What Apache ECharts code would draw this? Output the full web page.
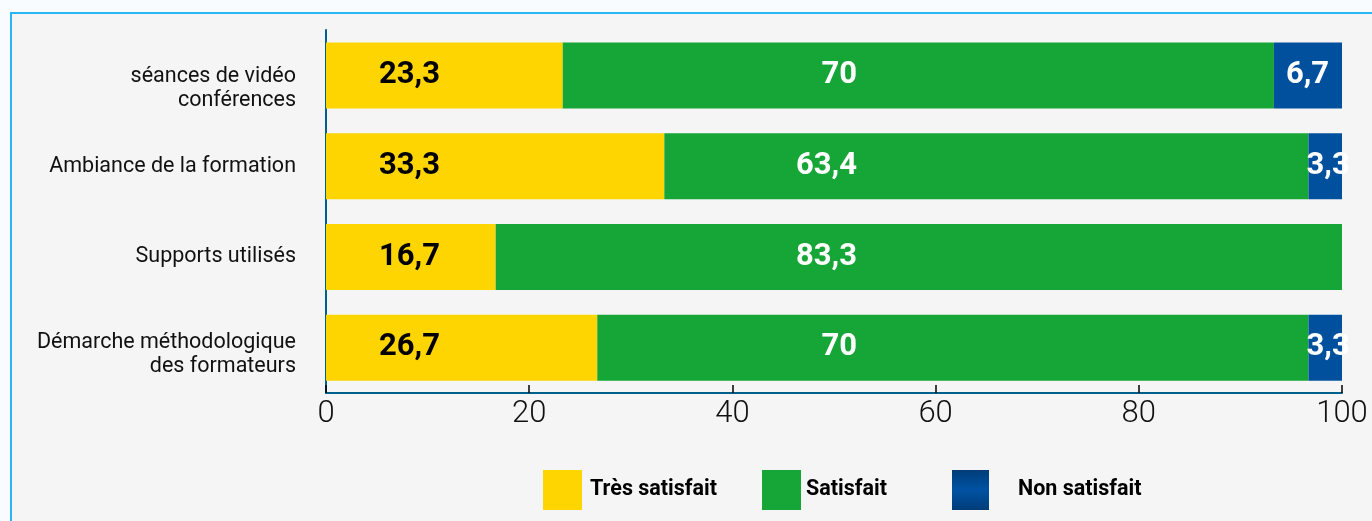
<!DOCTYPE html>
<html>
<head>
<meta charset="utf-8">
<script src="https://cdn.jsdelivr.net/npm/echarts@6/dist/echarts.min.js"></script>
<style>
  html, body { margin: 0; padding: 0; background: #f9fcff; }
  #frame {
    position: absolute; left: 10px; top: 12px; width: 1400px; height: 560px;
    background: #f5f5f5; border-left: 2px solid #29b6f6; border-top: 2px solid #29b6f6;
  }
  #chart { position: absolute; left: 0; top: 0; width: 1372px; height: 521px; }
</style>
</head>
<body>
<div id="frame"></div>
<div id="chart"></div>
<script>
// categories, top to bottom
const categories = [
  "séances de vidéo\nconférences",
  "Ambiance de la formation",
  "Supports utilisés",
  "Démarche méthodologique\ndes formateurs"
];
const seriesNames = ["Très satisfait", "Satisfait", "Non satisfait"];
const tresSatisfait = [23.3, 33.3, 16.7, 26.7];
const satisfait = [70, 63.4, 83.3, 70];
const nonSatisfait = [6.7, 3.3, 0, 3.3];
const colors = ["#ffd500", "#16a637", "#00509e"];

const chart = echarts.init(document.getElementById("chart"), null, { renderer: "canvas" });

const fmt = function (p) {
  if (!p.value) return "";
  return String(p.value).replace(".", ",");
};

const GRID_LEFT = 326;
function labelPlace(params) {
  const r = params.rect;
  const y = r.y + r.height / 2;
  if (params.seriesIndex === 0) {
    return { x: GRID_LEFT + 114, y: y, align: "right", verticalAlign: "middle" };
  }
  if (params.seriesIndex === 1) {
    return { x: GRID_LEFT + 531, y: y, align: "right", verticalAlign: "middle" };
  }
  return { x: r.width > 45 ? r.x + 12 : r.x - 2, y: y, align: "left", verticalAlign: "middle" };
}

function makeSeries(i, data) {
  return {
    name: seriesNames[i],
    type: "bar",
    stack: "total",
    barWidth: 66,
    itemStyle: { color: colors[i] },
    label: {
      show: true,
      formatter: fmt,
      fontFamily: "Roboto",
      fontWeight: "bold",
      fontSize: 31,
      color: i === 0 ? "#000" : "#fff"
    },
    labelLayout: labelPlace,
    data: data
  };
}

function makeLegend(i, left, iconColor, iconW, textGap) {
  return {
    left: left,
    top: 470,
    padding: 0,
    itemWidth: iconW,
    itemHeight: 40,
    itemGap: 0,
    icon: "rect",
    selectedMode: false,
    textStyle: { fontFamily: "Roboto", fontWeight: "bold", fontSize: 21.5, color: "#000", padding: [0, 0, 0, textGap] },
    data: [{ name: seriesNames[i], itemStyle: { color: iconColor } }]
  };
}

const blueGrad = new echarts.graphic.LinearGradient(0, 0, 0, 1, [
  { offset: 0, color: "#003d78" },
  { offset: 0.5, color: "#0052a3" },
  { offset: 1, color: "#003d78" }
]);

// two-line labels sit a little lower in the original: push them with a spacer line
function yLabel(value, idx) {
  const lines = value.split("\n").map(s => "{t|" + s + "}");
  if (lines.length > 1) {
    lines.unshift(idx === 0 ? "{g1| }" : "{g2| }");
  }
  return lines.join("\n");
}

const option = {
  animation: false,
  backgroundColor: "transparent",
  grid: { left: GRID_LEFT, right: 30, top: 30, bottom: 128, containLabel: false },
  legend: [
    makeLegend(0, 543, colors[0], 39, 3),
    makeLegend(1, 762, colors[1], 39, 0),
    makeLegend(2, 952, blueGrad, 37, 24)
  ],
  xAxis: {
    type: "value",
    min: 0,
    max: 100,
    interval: 20,
    splitLine: { show: false },
    axisLine: { show: true, lineStyle: { color: "#00608c", width: 2 } },
    axisTick: { show: true, inside: true, length: 8, lineStyle: { color: "#000", width: 1.5 } },
    axisLabel: { fontFamily: "Roboto", fontWeight: 300, fontSize: 31, color: "#111", margin: 6 }
  },
  yAxis: {
    type: "category",
    inverse: true,
    data: categories,
    axisLine: { show: true, lineStyle: { color: "#00608c", width: 2 } },
    axisTick: { show: false },
    axisLabel: {
      margin: 30,
      align: "right",
      formatter: yLabel,
      rich: {
        t: { fontFamily: "Roboto", fontSize: 21.5, color: "#111", lineHeight: 24, align: "right" },
        g1: { fontSize: 1, lineHeight: 26 },
        g2: { fontSize: 1, lineHeight: 14 }
      }
    }
  },
  series: [
    makeSeries(0, tresSatisfait),
    makeSeries(1, satisfait),
    makeSeries(2, nonSatisfait)
  ]
};

chart.setOption(option);
</script>
</body>
</html>
